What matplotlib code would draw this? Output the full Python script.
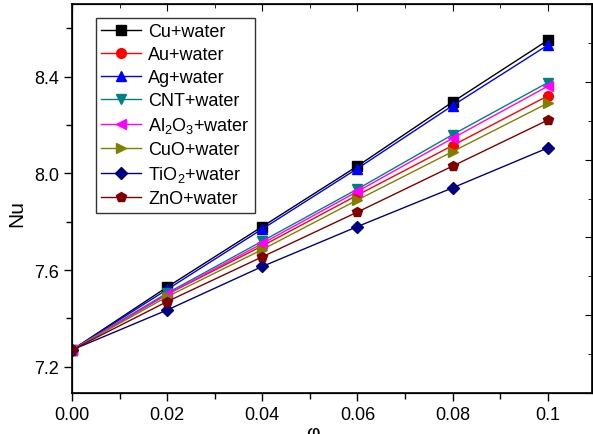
import numpy as np
from matplotlib import pyplot as plt
from matplotlib.ticker import MultipleLocator

plt.rcParams['font.family'] = ['Liberation Sans', 'DejaVu Sans']
plt.rcParams['mathtext.default'] = 'regular'

# volume fraction
phi = [0.0, 0.02, 0.04, 0.06, 0.08, 0.1]
x_tick_labels = ['0.00', '0.02', '0.04', '0.06', '0.08', '0.1']

# Nusselt number for each nanofluid
nu_cu = [7.27, 7.53, 7.78, 8.03, 8.295, 8.55]
nu_au = [7.27, 7.50, 7.70, 7.91, 8.115, 8.32]
nu_ag = [7.27, 7.52, 7.77, 8.02, 8.28, 8.53]
nu_cnt = [7.27, 7.505, 7.72, 7.935, 8.16, 8.375]
nu_al2o3 = [7.27, 7.50, 7.71, 7.925, 8.145, 8.36]
nu_cuo = [7.27, 7.49, 7.685, 7.89, 8.09, 8.29]
nu_tio2 = [7.27, 7.435, 7.615, 7.78, 7.94, 8.105]
nu_zno = [7.27, 7.47, 7.655, 7.84, 8.03, 8.22]

series = [
    ('Cu+water', nu_cu, 'black', 's'),
    ('Au+water', nu_au, 'red', 'o'),
    ('Ag+water', nu_ag, 'blue', '^'),
    ('CNT+water', nu_cnt, '#008080', 'v'),
    ('Al$_2$O$_3$+water', nu_al2o3, 'magenta', '<'),
    ('CuO+water', nu_cuo, '#808000', '>'),
    ('TiO$_2$+water', nu_tio2, '#000080', 'D'),
    ('ZnO+water', nu_zno, '#800000', 'p'),
]

fig = plt.figure(figsize=(5.93, 4.35), dpi=100)
ax = fig.add_axes([72/593, 41/435, 520/593, 389/435])

for name, vals, col, mk in series:
    ms = 6 if mk == 'D' else 7
    ax.plot(phi, vals, color=col, marker=mk, markersize=ms, linewidth=1,
            label=name)

ax.set_xlim(0, 0.1093)
ax.set_ylim(7.092, 8.70)
ax.set_xticks(phi)
ax.set_xticklabels(x_tick_labels)
ax.xaxis.set_minor_locator(MultipleLocator(0.01))
ax.set_yticks([7.2, 7.6, 8.0, 8.4])
ax.yaxis.set_minor_locator(MultipleLocator(0.2))
ax.tick_params(which='major', direction='out', length=6, width=1, labelsize=13)
ax.tick_params(which='minor', direction='out', length=4, width=1)
for s in ax.spines.values():
    s.set_linewidth(1.2)

ax.set_ylabel('Nu', fontsize=15)
ax.yaxis.set_label_coords(-0.088, 0.465)
ax.set_xlabel('φ', fontsize=15)
ax.xaxis.set_label_coords(0.464, -0.078)

# inward ticks on top and right like the original plot
top = ax.twiny()
top.set_xlim(ax.get_xlim())
top.set_xticks(phi)
top.xaxis.set_minor_locator(MultipleLocator(0.01))
top.tick_params(which='both', direction='in', labeltop=False, length=5)
top.tick_params(which='minor', length=3)

right = ax.twinx()
right.set_ylim(0, 10)
right.yaxis.set_major_locator(MultipleLocator(2))
right.yaxis.set_minor_locator(MultipleLocator(1))
right.tick_params(which='both', direction='in', labelright=False, length=5)
right.tick_params(which='minor', length=3)

leg = ax.legend(loc='upper left', bbox_to_anchor=(0.046, 0.964),
                borderaxespad=0, fancybox=False, edgecolor='black',
                fontsize=13, handlelength=2.2, labelspacing=0.33,
                handletextpad=0.4, borderpad=0.3)
leg.get_frame().set_linewidth(1)
leg.set_zorder(5)

fig.savefig('out.png', dpi=100)
